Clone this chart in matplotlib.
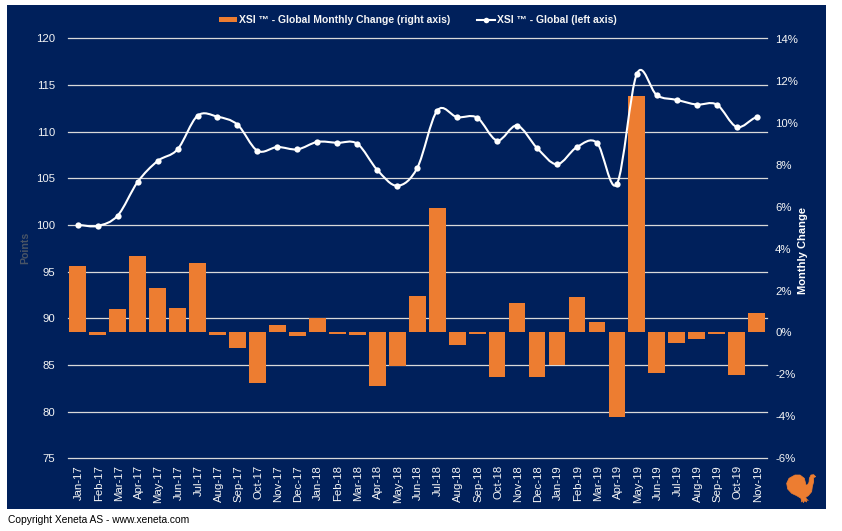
import matplotlib
matplotlib.use("Agg")
import matplotlib.pyplot as plt
from matplotlib.path import Path
from matplotlib.patches import PathPatch, Rectangle, Polygon
from matplotlib.lines import Line2D
from matplotlib.transforms import ScaledTranslation

months = ["Jan-17","Feb-17","Mar-17","Apr-17","May-17","Jun-17","Jul-17","Aug-17","Sep-17","Oct-17","Nov-17","Dec-17",
          "Jan-18","Feb-18","Mar-18","Apr-18","May-18","Jun-18","Jul-18","Aug-18","Sep-18","Oct-18","Nov-18","Dec-18",
          "Jan-19","Feb-19","Mar-19","Apr-19","May-19","Jun-19","Jul-19","Aug-19","Sep-19","Oct-19","Nov-19"]
index_values = [100.0,99.9,101.0,104.6,106.85,108.1,111.7,111.6,110.75,107.95,108.35,108.1,
                108.9,108.8,108.7,105.9,104.2,106.1,112.25,111.55,111.5,109.05,110.65,108.25,
                106.5,108.35,108.8,104.4,116.2,113.9,113.4,112.9,112.9,110.5,111.55]
monthly_change = [3.17,-0.1,1.14,3.67,2.14,1.19,3.33,-0.1,-0.76,-2.43,0.38,-0.19,
                  0.68,-0.06,-0.1,-2.57,-1.62,1.76,5.95,-0.62,-0.06,-2.1,1.43,-2.1,
                  -1.57,1.71,0.48,-4.05,11.3,-1.95,-0.48,-0.33,-0.06,-2.05,0.95]
left_ticks = [75,80,85,90,95,100,105,110,115,120]
right_ticks = [-6,-4,-2,0,2,4,6,8,10,12,14]

W, H = 842, 531
NAVY = "#00205B"; ORANGE = "#ED7D31"; GRID = "#D9D9D9"; TXT = "#F5F5F5"
FONT = "Liberation Sans"
plt.rcParams["font.family"] = FONT

fig = plt.figure(figsize=(W/100, H/100), dpi=100, facecolor="white")
fig.add_artist(Rectangle((7/W, 1-509/H), 819/W, 504/H, transform=fig.transFigure, fc=NAVY, ec="none", zorder=-5))

pos = [67.7/W, 1-458.3/H, 699/W, 420/H]
ax = fig.add_axes(pos)
ax.patch.set_visible(False)
x = list(range(len(months)))
ax.set_xlim(-0.5, 34.5)
ax.set_ylim(75, 120)
ax.set_yticks(left_ticks)
ax.grid(axis="y", color=GRID, lw=0.9)
for gl in ax.get_ygridlines():
    gl.set_clip_on(False)
ax.set_axisbelow(True)
ax.set_xticks(x)
ax.set_xticklabels(months, rotation=90, fontsize=8.2, color=TXT)
ax.tick_params(axis="x", length=0, pad=4.8)
ax.tick_params(axis="y", length=0, pad=9, labelsize=8.2, labelcolor=TXT)
shift = ScaledTranslation(1/100, 0, fig.dpi_scale_trans)
for lab in ax.get_xticklabels():
    lab.set_transform(lab.get_transform() + shift)
for s in ax.spines.values():
    s.set_visible(False)
ax.text(25/W, 1-248/H, "Points", transform=fig.transFigure, rotation=90, color="#4A5566",
        fontsize=7.6, fontweight="bold", ha="center", va="center")

ax2 = ax.twinx()
ax2.set_position(pos)
ax2.patch.set_visible(False)
ax2.set_yticks(right_ticks)
ax2.set_yticklabels([f"{v}%" for v in right_ticks])
ax2.tick_params(axis="y", length=0, pad=6, labelsize=8.2, labelcolor=TXT)
for s in ax2.spines.values():
    s.set_visible(False)
bars = ax2.bar(x, monthly_change, width=0.84, color=ORANGE, zorder=2)
ax.text(803.5/W, 1-250/H, "Monthly Change", transform=fig.transFigure, rotation=90, color="white",
        fontsize=8, fontweight="bold", ha="center", va="center")

# Smooth line through the points (Catmull-Rom, as spreadsheet smoothing does)
verts = [(x[0], index_values[0])]
codes = [Path.MOVETO]
n = len(x)
for i in range(n-1):
    p0 = index_values[max(i-1, 0)]; p1 = index_values[i]
    p2 = index_values[i+1]; p3 = index_values[min(i+2, n-1)]
    verts += [(x[i]+1/3, p1+(p2-p0)/6), (x[i+1]-1/3, p2-(p3-p1)/6), (x[i+1], p2)]
    codes += [Path.CURVE4]*3
curve = PathPatch(Path(verts, codes), transform=ax.transData, fc="none", ec="white", lw=1.5, zorder=5, capstyle="round")
ax2.add_patch(curve)
ax2.plot(x, index_values, ls="none", marker="o", ms=4.5, mfc="white", mew=0, transform=ax.transData, zorder=6)
ax2.set_xlim(-0.5, 34.5)
ax2.set_ylim(-6, 14.03)

handles = [Rectangle((0,0),1,1,fc=ORANGE,ec="none"),
           Line2D([0],[0],color="white",lw=1.5,marker="o",ms=4,mfc="white",mew=0)]
labels = ["XSI ™ - Global Monthly Change (right axis)", "XSI ™ - Global (left axis)"]
leg = ax2.legend(handles, labels, ncol=2, frameon=False, loc="center", bbox_to_anchor=(418/W, 1-20/H),
                 bbox_transform=fig.transFigure, prop={"family":FONT,"size":7.45,"weight":"bold"},
                 handlelength=1.74, handleheight=0.45, handletextpad=0.22, columnspacing=2.6,
                 borderpad=0, labelcolor=TXT)

fig.text(7.5/W, 1-520/H, "Copyright Xeneta AS - www.xeneta.com", color="black", fontsize=7.4, va="center", ha="left")

# Turkey logo, outline given in figure pixels
turkey = [(60,30),(75,30),(88,40),(93,60),(97,60),(102,52),(103,40),(108,30),(116,29),(122,35),(116,38),(116,50),
          (112,65),(110,80),(100,92),(92,97),(95,103),(100,106),(93,105),(95,111),(89,107),(85,113),(83,106),
          (80,111),(78,100),(65,92),(50,85),(38,72),(35,55),(42,40)]
fig.add_artist(Polygon([((775+a/3)/W, 1-(465+b/3)/H) for a, b in turkey], closed=True,
                       transform=fig.transFigure, fc=ORANGE, ec=ORANGE, lw=0.5, joinstyle="round"))

fig.savefig("out.png", dpi=100)
